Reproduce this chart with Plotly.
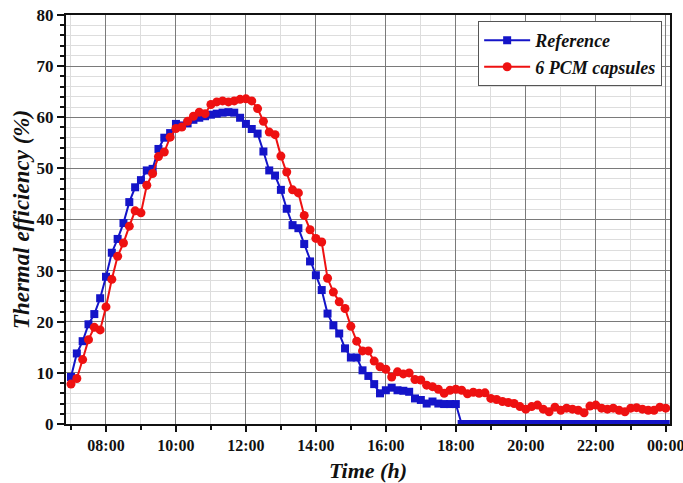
import pandas as pd
import plotly.graph_objects as go

# 10-minute samples from 07:00 to 00:00
times = pd.date_range("2024-01-01 07:00", periods=103, freq="10min")

reference = [
    9.2, 13.8, 16.2, 19.5, 21.5, 24.6, 28.8, 33.5, 36.2, 39.3, 43.4, 46.3, 47.7, 49.6, 49.9, 53.8, 56.0, 56.9, 58.7,
    58.4, 58.8, 59.5, 59.9, 60.2, 60.5, 60.7, 60.9, 61.0, 60.9, 59.9, 58.7, 57.7, 56.8,
    53.3, 49.6, 48.6, 45.8, 42.1, 38.9, 38.3, 35.2, 31.8, 29.1, 26.2, 21.6, 19.3, 17.7,
    14.8, 13.0, 13.0, 10.5, 9.4, 7.8, 6.0, 6.6, 7.1, 6.6, 6.5, 6.3, 5.0, 4.7, 4.0, 4.4, 4.0, 3.9, 3.9, 3.9,
    0, 0, 0, 0, 0, 0, 0, 0, 0, 0, 0, 0, 0, 0, 0, 0, 0, 0,
    0, 0, 0, 0, 0, 0, 0, 0, 0, 0, 0, 0, 0, 0, 0, 0, 0, 0,
]

pcm6 = [
    7.8, 8.9, 12.6, 16.5, 18.9, 18.4, 22.9, 28.3, 32.8, 35.4, 38.7, 41.7, 41.3, 46.7, 49.0, 52.3, 53.2, 56.1, 57.8,
    58.1, 59.2, 60.2, 61.0, 60.7, 62.5, 63.0, 63.2, 63.0, 63.2, 63.5, 63.6, 63.2, 61.7,
    59.2, 57.1, 56.6, 52.4, 49.3, 45.8, 45.2, 40.8, 38.0, 36.3, 35.6, 28.5, 25.8, 23.9,
    22.6, 19.1, 16.2, 14.3, 14.3, 12.3, 11.2, 10.7, 9.2, 10.2, 9.8, 10.0, 8.7, 8.6, 7.6, 7.3, 6.8, 6.0, 6.6, 6.8,
    6.6, 5.9, 6.2, 6.0, 6.1, 5.0, 4.8, 4.4, 4.2, 4.0, 3.4, 2.9, 3.4, 3.7, 2.9, 2.4, 3.3, 2.7,
    3.1, 2.9, 2.7, 2.2, 3.5, 3.7, 3.1, 2.9, 3.1, 2.7, 2.4, 3.1, 3.2, 2.9, 2.7, 2.7, 3.3, 3.1,
]

series_names = ["Reference", "6 PCM capsules"]
x_ticks = pd.date_range("2024-01-01 08:00", periods=9, freq="2h")
x_tick_labels = ["08:00", "10:00", "12:00", "14:00", "16:00", "18:00", "20:00", "22:00", "00:00"]

FONT = "Liberation Serif"

fig = go.Figure()
fig.add_trace(go.Scatter(
    x=times, y=reference, name=series_names[0], mode="lines+markers",
    line=dict(color="#1414c8", width=2),
    marker=dict(symbol="square", size=8, color="#1414c8"),
))
fig.add_trace(go.Scatter(
    x=times, y=pcm6, name=series_names[1], mode="lines+markers",
    line=dict(color="#ee1111", width=2),
    marker=dict(symbol="circle", size=9, color="#ee1111"),
))

fig.update_layout(
    width=683, height=483,
    margin=dict(l=66, r=13, t=15, b=59, autoexpand=False),
    paper_bgcolor="white", plot_bgcolor="white",
    font=dict(family=FONT, color="#111111"),
    showlegend=True,
    legend=dict(
        x=0.987, y=0.985, xanchor="right", yanchor="top",
        bgcolor="white", bordercolor="#555555", borderwidth=1,
        font=dict(family=FONT, size=18, weight="bold", style="italic", color="#111111"),
        tracegroupgap=0, itemwidth=46,
    ),
)

fig.update_xaxes(
    type="date", automargin=False,
    range=["2024-01-01 06:51:26", "2024-01-02 00:07:20"],
    tickvals=x_ticks, ticktext=x_tick_labels, ticklabeloverflow="allow",
    ticks="outside", ticklen=6, tickwidth=2, tickcolor="#111111",
    tickfont=dict(family=FONT, size=16, weight="bold", color="#111111"),
    showline=True, linecolor="#111111", linewidth=2, mirror=True,
    showgrid=True, gridcolor="#7a7a7a", gridwidth=1,
    minor=dict(dtick=3600000, tick0="2024-01-01 07:00", ticks="outside", ticklen=4,
               tickcolor="#111111", tickwidth=1.5, showgrid=True, gridcolor="#dddddd", gridwidth=1),
    title=dict(text="Time (h)", standoff=11,
               font=dict(family=FONT, size=22, weight="bold", style="italic", color="#111111")),
    zeroline=False,
)

fig.update_yaxes(
    automargin=False,
    range=[0, 80], dtick=10, tick0=0,
    ticks="outside", ticklen=7, tickwidth=2, tickcolor="#111111",
    tickfont=dict(family=FONT, size=17, weight="bold", color="#111111"),
    showline=True, linecolor="#111111", linewidth=2, mirror=True,
    showgrid=True, gridcolor="#7a7a7a", gridwidth=1,
    minor=dict(dtick=2, ticks="outside", ticklen=4, tickcolor="#111111", tickwidth=1.5,
               showgrid=True, gridcolor="#dddddd", gridwidth=1),
    title=dict(text="Thermal efficiency (%)", standoff=1,
               font=dict(family=FONT, size=23, weight="bold", style="italic", color="#111111")),
    zeroline=False,
)

fig.write_html("out.html")
